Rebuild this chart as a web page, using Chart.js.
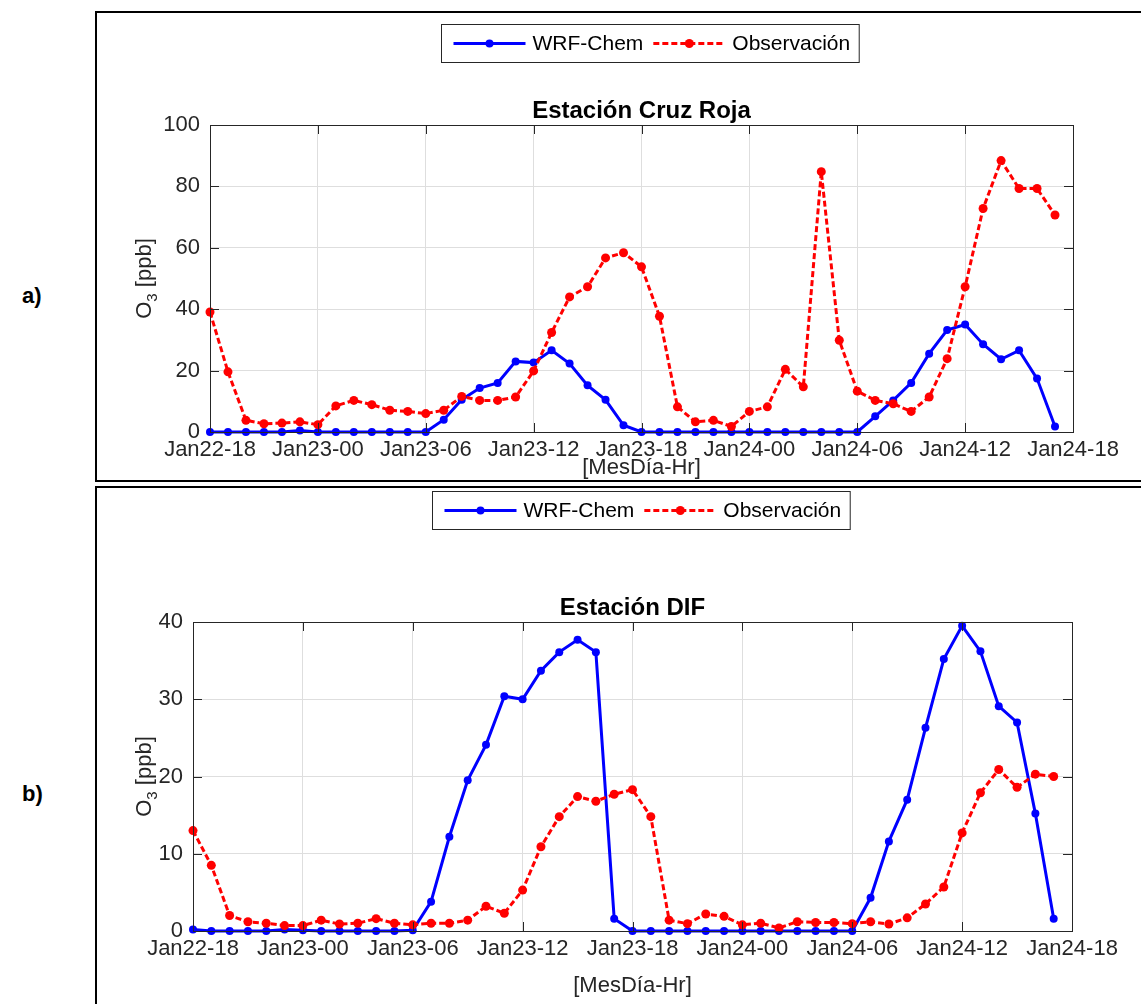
<!DOCTYPE html>
<html>
<head>
<meta charset="utf-8">
<script src="https://cdn.jsdelivr.net/npm/chart.js@4.4.1/dist/chart.umd.min.js"></script>
<style>
  body { margin: 0; background: #fff; width: 1141px; height: 1004px; overflow: hidden; position: relative; font-family: "Liberation Sans", Arial, sans-serif; }
  .box { position: absolute; border: 2px solid #000; box-sizing: border-box; }
  .tag { position: absolute; left: 22px; font-weight: bold; font-size: 22px; color: #000; }
  canvas { position: absolute; }
</style>
</head>
<body>
<div class="box" style="left:95px; top:11px; width:1060px; height:471px;"></div>
<div class="box" style="left:95px; top:486px; width:1060px; height:540px;"></div>
<div class="tag" style="top:283px;">a)</div>
<div class="tag" style="top:781px;">b)</div>
<canvas id="chartA" width="1043" height="469" style="left:96px; top:12px;"></canvas>
<canvas id="chartB" width="1043" height="518" style="left:96px; top:487px;"></canvas>
<script>
// hourly samples, Jan22-18 .. Jan24-17
const hours = Array.from({ length: 48 }, (_, i) => i);
const tickLabels = ['Jan22-18', 'Jan23-00', 'Jan23-06', 'Jan23-12', 'Jan23-18',
                    'Jan24-00', 'Jan24-06', 'Jan24-12', 'Jan24-18'];
const seriesNames = ['WRF-Chem', 'Observación'];

// Estación Cruz Roja
const wrfCruzRoja = [0, 0, 0, 0, 0, 0.5, 0, 0, 0, 0, 0, 0, 0, 4, 10.5, 14.3, 16, 23, 22.6, 26.6,
  22.3, 15.2, 10.5, 2.2, 0, 0, 0, 0, 0, 0, 0, 0, 0, 0, 0, 0, 0, 5.1, 10.3, 16,
  25.5, 33.2, 35, 28.6, 23.7, 26.6, 17.4, 1.8];
const obsCruzRoja = [39.1, 19.6, 3.8, 2.7, 2.9, 3.3, 2.4, 8.5, 10.3, 8.9, 7.1, 6.7, 6.0, 7.1, 11.6, 10.3, 10.3, 11.4, 19.9, 32.4,
  44, 47.3, 56.7, 58.4, 53.8, 37.7, 8.2, 3.3, 3.8, 1.8, 6.7, 8.2, 20.4, 14.7, 84.8, 29.9, 13.3, 10.3, 9.2, 6.7,
  11.4, 23.9, 47.3, 72.8, 88.4, 79.3, 79.3, 70.7];

// Estación DIF
const wrfDIF = [0.2, 0, 0, 0, 0, 0.2, 0.1, 0, 0, 0, 0, 0, 0.1, 3.8, 12.2, 19.5, 24.1, 30.4, 30, 33.7,
  36.1, 37.7, 36.1, 1.6, 0, 0, 0, 0, 0, 0, 0, 0, 0, 0, 0, 0, 0, 4.3, 11.6, 17,
  26.3, 35.2, 39.5, 36.2, 29.1, 27, 15.2, 1.6];
const obsDIF = [13, 8.5, 2, 1.2, 1, 0.7, 0.7, 1.4, 0.9, 1, 1.6, 1, 0.8, 1, 1, 1.4, 3.2, 2.3, 5.3, 10.9,
  14.8, 17.4, 16.8, 17.7, 18.3, 14.8, 1.4, 0.95, 2.2, 1.9, 0.8, 1, 0.4, 1.2, 1.1, 1.1, 0.95, 1.2, 0.9, 1.7,
  3.5, 5.7, 12.7, 17.9, 20.9, 18.6, 20.3, 20];

const FONT = '"Liberation Sans", Arial, sans-serif';
const AXIS = '#262626';

// MATLAB-ish frame: inward ticks, full box, title, y label, legend
const matlabLook = {
  id: 'matlabLook',
  afterDraw(chart, args, opts) {
    const { ctx, chartArea: a, scales: { x, y } } = chart;
    ctx.save();
    ctx.strokeStyle = AXIS;
    ctx.lineWidth = 1;
    ctx.beginPath();
    x.ticks.forEach(t => {
      const px = Math.round(x.getPixelForValue(t.value)) + 0.5;
      ctx.moveTo(px, a.bottom); ctx.lineTo(px, a.bottom - 9);
      ctx.moveTo(px, a.top); ctx.lineTo(px, a.top + 9);
    });
    y.ticks.forEach(t => {
      const py = Math.round(y.getPixelForValue(t.value)) + 0.5;
      ctx.moveTo(a.left, py); ctx.lineTo(a.left + 9, py);
      ctx.moveTo(a.right, py); ctx.lineTo(a.right - 9, py);
    });
    ctx.stroke();
    ctx.strokeRect(Math.round(a.left) + 0.5, Math.round(a.top) + 0.5,
      Math.round(a.right - a.left), Math.round(a.bottom - a.top));

    // title
    ctx.fillStyle = '#000';
    ctx.font = 'bold 24px ' + FONT;
    ctx.textAlign = 'center';
    ctx.textBaseline = 'alphabetic';
    ctx.fillText(opts.title, (a.left + a.right) / 2, a.top - 7);

    // y label O3 [ppb] with subscript
    ctx.save();
    ctx.fillStyle = AXIS;
    ctx.translate(opts.ylabelX, (a.top + a.bottom) / 2);
    ctx.rotate(-Math.PI / 2);
    ctx.textAlign = 'left';
    ctx.font = '22px ' + FONT;
    const wO = ctx.measureText('O').width;
    const wR = ctx.measureText(' [ppb]').width;
    ctx.font = '15px ' + FONT;
    const w3 = ctx.measureText('3').width;
    let x0 = -(wO + w3 + wR) / 2;
    ctx.font = '22px ' + FONT;
    ctx.fillText('O', x0, 8);
    ctx.font = '15px ' + FONT;
    ctx.fillText('3', x0 + wO, 14);
    ctx.font = '22px ' + FONT;
    ctx.fillText(' [ppb]', x0 + wO + w3, 8);
    ctx.restore();

    // legend
    const ds = chart.data.datasets;
    ctx.font = '21px ' + FONT;
    const widths = ds.map(d => ctx.measureText(d.label).width);
    const lineLen = 72;
    const boxW = 12 + ds.length * (lineLen + 7) + widths.reduce((s, w) => s + w, 0) + 10 * (ds.length - 1) + 9;
    const boxH = 38;
    const bx = Math.round(opts.legendX - boxW / 2) + 0.5;
    const by = Math.round(opts.legendY - boxH / 2) + 0.5;
    ctx.fillStyle = '#fff';
    ctx.fillRect(bx, by, boxW, boxH);
    ctx.strokeStyle = AXIS;
    ctx.lineWidth = 1;
    ctx.strokeRect(bx, by, boxW, boxH);
    let cx = bx + 12;
    const cy = by + boxH / 2;
    ds.forEach((d, i) => {
      ctx.strokeStyle = d.borderColor;
      ctx.lineWidth = d.borderWidth;
      ctx.setLineDash(d.borderDash || []);
      ctx.beginPath();
      ctx.moveTo(cx, cy); ctx.lineTo(cx + lineLen, cy);
      ctx.stroke();
      ctx.setLineDash([]);
      ctx.fillStyle = d.pointBackgroundColor;
      ctx.beginPath();
      ctx.arc(cx + lineLen / 2, cy, d.pointRadius, 0, Math.PI * 2);
      ctx.fill();
      cx += lineLen + 7;
      ctx.fillStyle = '#000';
      ctx.textAlign = 'left';
      ctx.textBaseline = 'middle';
      ctx.fillText(d.label, cx, cy + 1);
      cx += widths[i] + 10;
    });
    ctx.restore();
  }
};

function makeChart(id, wrf, obs, cfg) {
  return new Chart(document.getElementById(id), {
    type: 'line',
    data: {
      labels: hours,
      datasets: [
        {
          label: seriesNames[0], data: wrf, order: 1,
          borderColor: '#0000ff', borderWidth: 3,
          pointBackgroundColor: '#0000ff', pointBorderColor: '#0000ff', pointRadius: 4,
          pointBorderWidth: 0, clip: false, tension: 0
        },
        {
          label: seriesNames[1], data: obs, order: 0,
          borderColor: '#ff0000', borderWidth: 3, borderDash: [6, 3],
          pointBackgroundColor: '#ff0000', pointBorderColor: '#ff0000', pointRadius: 4.5,
          pointBorderWidth: 0, clip: false, tension: 0
        }
      ]
    },
    options: {
      responsive: false,
      devicePixelRatio: 1,
      animation: false,
      layout: { padding: { left: 0, right: cfg.padRight, top: cfg.padTop, bottom: cfg.padBottom } },
      plugins: {
        legend: { display: false },
        tooltip: { enabled: false },
        matlabLook: cfg.look
      },
      scales: {
        x: {
          type: 'linear', min: 0, max: 48,
          afterFit: s => { s.height = cfg.xHeight; },
          grid: { color: '#dedede', drawTicks: false },
          border: { display: false },
          ticks: {
            stepSize: 6, padding: 5, color: AXIS, maxRotation: 0, autoSkip: false,
            font: { family: FONT, size: 22 },
            callback: v => tickLabels[v / 6]
          },
          title: { display: true, text: '[MesDía-Hr]', color: AXIS, padding: 0, font: { family: FONT, size: 22 } }
        },
        y: {
          min: 0, max: cfg.yMax,
          afterFit: s => { s.width = cfg.yWidth; },
          grid: { color: '#dedede', drawTicks: false },
          border: { display: false },
          ticks: { stepSize: cfg.yStep, padding: 10, color: AXIS, font: { family: FONT, size: 22 } }
        }
      }
    },
    plugins: [matlabLook]
  });
}

makeChart('chartA', wrfCruzRoja, obsCruzRoja, {
  padRight: 66, padTop: 113, padBottom: 0, xHeight: 49, yWidth: 114, yMax: 100, yStep: 20,
  look: { title: 'Estación Cruz Roja', ylabelX: 47, legendX: 554, legendY: 31 }
});
makeChart('chartB', wrfDIF, obsDIF, {
  padRight: 67, padTop: 135, padBottom: 6, xHeight: 68, yWidth: 97, yMax: 40, yStep: 10,
  look: { title: 'Estación DIF', ylabelX: 47, legendX: 545, legendY: 23 }
});
</script>
</body>
</html>
